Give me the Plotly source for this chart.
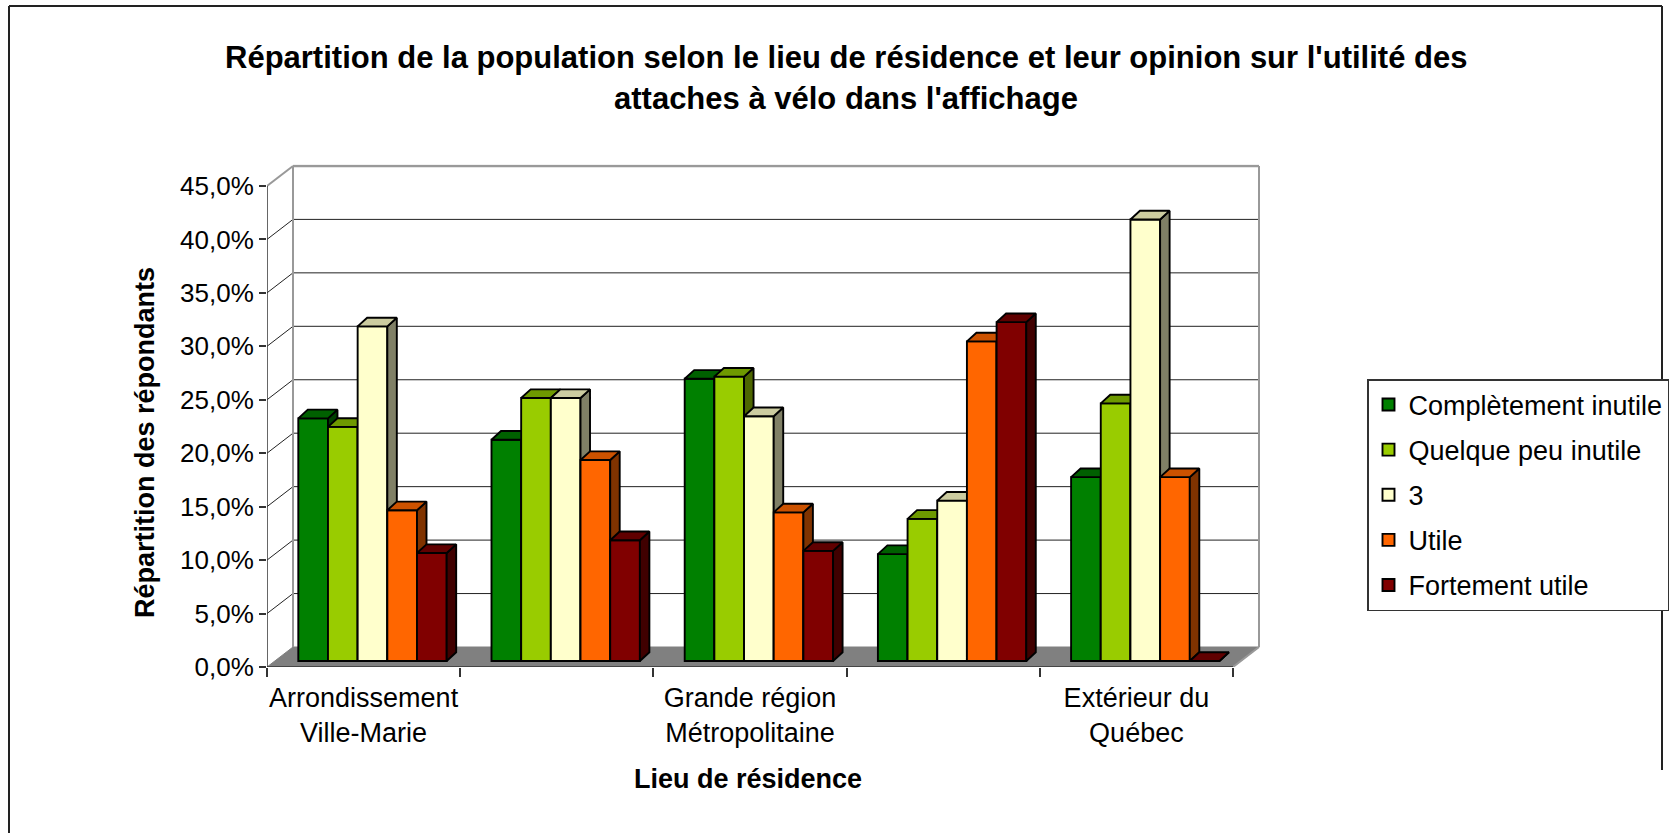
import plotly.graph_objects as go

# ---------------- data ----------------
categories = ["Arrondissement<br>Ville-Marie", "", "Grande région<br>Métropolitaine", "", "Extérieur du<br>Québec"]
series_names = ["Complètement inutile", "Quelque peu inutile", "3", "Utile", "Fortement utile"]
complètement_inutile = [22.7, 20.7, 26.4, 10.0, 17.2]
quelque_peu_inutile = [21.9, 24.6, 26.6, 13.3, 24.1]
neutre_3 = [31.3, 24.6, 22.9, 15.0, 41.3]
utile = [14.1, 18.8, 13.9, 29.9, 17.2]
fortement_utile = [10.1, 11.3, 10.3, 31.7, 0.0]
series_values = [complètement_inutile, quelque_peu_inutile, neutre_3, utile, fortement_utile]
y_ticks = [0, 5, 10, 15, 20, 25, 30, 35, 40, 45]

# ---------------- style ----------------
W, H = 1669, 833
FONT = "Liberation Sans, Arial, sans-serif"
front_col = ['#008000', '#99CC00', '#FFFFCC', '#FF6600', '#800000']
top_col = ['#006000', '#6E9900', '#CCCCA0', '#CC5200', '#600000']
side_col = ['#004000', '#4D6600', '#808066', '#803300', '#400000']

PX_CAT = 193.2      # pixels per category
PX_PCT = 10.69      # pixels per percent
LEFT_PX = 267
BOTTOM_PX = 667
DX = 26 / PX_CAT    # back-wall depth offset (category units)
DY = 20 / PX_PCT    # back-wall depth offset (percent units)
X0 = 0.162          # first bar left edge inside category
BW = 0.1536         # bar width
BASE = 0.56         # bar floor level (front of bars)
DDX = 9.5 / PX_CAT  # bar depth
DDY = 8.7 / PX_PCT

n = len(categories)
x_max = n + DX + 0.03
y_max = 47.0
dom_x = [LEFT_PX / W, (LEFT_PX + x_max * PX_CAT) / W]
dom_y = [(H - BOTTOM_PX) / H, (H - BOTTOM_PX + y_max * PX_PCT) / H]


def py(px):
    return 1 - px / H


fig = go.Figure()

for s, (name, vals) in enumerate(zip(series_names, series_values)):
    k = s + 2
    xa, ya = f"x{k}", f"y{k}"
    fig.add_trace(go.Bar(
        x=list(range(n)), y=vals, base=BASE, offset=X0 + s * BW, width=BW,
        marker=dict(color=front_col[s], line=dict(color='black', width=1.9)),
        name=name, legendgroup=name, xaxis=xa, yaxis=ya, hoverinfo='skip'))
    sx, sy, tx, ty = [], [], [], []
    for c, v in enumerate(vals):
        xl = c + X0 + s * BW
        xr = xl + BW
        t = BASE + v
        sx += [xr, xr + DDX, xr + DDX, xr, xr, None]
        sy += [BASE, BASE + DDY, t + DDY, t, BASE, None]
        tx += [xl, xl + DDX, xr + DDX, xr, xl, None]
        ty += [t, t + DDY, t + DDY, t, t, None]
    fig.add_trace(go.Scatter(x=sx, y=sy, mode='lines', fill='toself', fillcolor=side_col[s],
                             line=dict(color='black', width=1.9), showlegend=False,
                             legendgroup=name, hoverinfo='skip', xaxis=xa, yaxis=ya))
    fig.add_trace(go.Scatter(x=tx, y=ty, mode='lines', fill='toself', fillcolor=top_col[s],
                             line=dict(color='black', width=1.9), showlegend=False,
                             legendgroup=name, hoverinfo='skip', xaxis=xa, yaxis=ya))

shapes = []
# floor
shapes.append(dict(type='path', xref='x', yref='y', layer='below',
                   path=f"M0,0 L{n},0 L{n+DX},{DY} L{DX},{DY} Z",
                   fillcolor='#808080', line=dict(color='#808080', width=1)))
# back wall gridlines
for v in y_ticks[1:-1]:
    shapes.append(dict(type='line', xref='x', yref='y', layer='below',
                       x0=DX, x1=n + DX, y0=v + DY, y1=v + DY,
                       line=dict(color='#222222', width=1)))
    shapes.append(dict(type='line', xref='x', yref='y', layer='below',
                       x0=0, x1=DX, y0=v, y1=v + DY,
                       line=dict(color='#222222', width=1)))
# back wall border
shapes.append(dict(type='line', xref='x', yref='y', layer='below', x0=DX, x1=n + DX,
                   y0=y_ticks[-1] + DY, y1=y_ticks[-1] + DY, line=dict(color='#999999', width=2.5)))
shapes.append(dict(type='line', xref='x', yref='y', layer='below', x0=DX, x1=DX,
                   y0=DY, y1=y_ticks[-1] + DY, line=dict(color='#999999', width=2)))
shapes.append(dict(type='line', xref='x', yref='y', layer='below', x0=n + DX, x1=n + DX,
                   y0=DY, y1=y_ticks[-1] + DY, line=dict(color='#999999', width=2)))
shapes.append(dict(type='line', xref='x', yref='y', layer='below', x0=0, x1=DX,
                   y0=y_ticks[-1], y1=y_ticks[-1] + DY, line=dict(color='#999999', width=2)))
shapes.append(dict(type='line', xref='x', yref='y', layer='below', x0=n, x1=n + DX,
                   y0=0, y1=DY, line=dict(color='#999999', width=2)))
# front axes
shapes.append(dict(type='line', xref='x', yref='y', layer='below', x0=0, x1=0,
                   y0=0, y1=y_ticks[-1], line=dict(color='#333333', width=1.5)))
shapes.append(dict(type='line', xref='x', yref='y', layer='below', x0=0, x1=n,
                   y0=0, y1=0, line=dict(color='#333333', width=1.5)))
# outer chart border (top, left, right)
bc = dict(color='#222222', width=2)
shapes.append(dict(type='line', xref='paper', yref='paper', x0=9 / W, x1=1662 / W,
                   y0=py(6), y1=py(6), line=bc))
shapes.append(dict(type='line', xref='paper', yref='paper', x0=9 / W, x1=9 / W,
                   y0=py(6), y1=py(840), line=bc))
shapes.append(dict(type='line', xref='paper', yref='paper', x0=1662 / W, x1=1662 / W,
                   y0=py(6), y1=py(770), line=bc))

tick_text = [f"{v:.1f}".replace('.', ',') + "%" for v in y_ticks]

layout = dict(
    width=W, height=H, autosize=False,
    margin=dict(l=0, r=0, t=0, b=0, pad=0, autoexpand=False),
    paper_bgcolor='white', plot_bgcolor='rgba(0,0,0,0)',
    font=dict(family=FONT, size=27, color='black'),
    barmode='overlay', showlegend=True,
    shapes=shapes,
    xaxis=dict(domain=dom_x, range=[0, x_max], showgrid=False, zeroline=False, showline=False,
               automargin=False,
               tickvals=[c + 0.5 for c in range(n)], ticktext=categories, ticks='',
               tickfont=dict(size=27), ticklabelstandoff=12,
               minor=dict(tickvals=list(range(n + 1)), ticks='outside', ticklen=9,
                          tickcolor='#333333', tickwidth=1.5, showgrid=False)),
    yaxis=dict(domain=dom_y, range=[0, y_max], showgrid=False, zeroline=False, showline=False,
               automargin=False,
               tickvals=y_ticks, ticktext=tick_text, ticks='outside', ticklen=7,
               tickcolor='#333333', tickwidth=1.5, tickfont=dict(size=26)),
    legend=dict(x=1367 / W, y=py(379), xanchor='left', yanchor='top',
                bordercolor='#333333', borderwidth=1.5, bgcolor='white',
                font=dict(size=27), tracegroupgap=7, traceorder='grouped'),
    annotations=[
        dict(text="<b>Répartition de la population selon le lieu de résidence et leur opinion sur l'utilité des</b>",
             x=846 / W, y=py(57), xref='paper', yref='paper', showarrow=False,
             font=dict(size=31), xanchor='center', yanchor='middle'),
        dict(text="<b>attaches à vélo dans l'affichage</b>",
             x=846 / W, y=py(98), xref='paper', yref='paper', showarrow=False,
             font=dict(size=31), xanchor='center', yanchor='middle'),
        dict(text="<b>Répartition des répondants</b>", textangle=-90,
             x=145 / W, y=py(443), xref='paper', yref='paper', showarrow=False,
             font=dict(size=27), xanchor='center', yanchor='middle'),
        dict(text="<b>Lieu de résidence</b>",
             x=748 / W, y=py(779), xref='paper', yref='paper', showarrow=False,
             font=dict(size=27), xanchor='center', yanchor='middle'),
    ],
)
for k in range(2, len(series_values) + 2):
    layout[f"xaxis{k}"] = dict(overlaying='x', matches='x', visible=False, range=[0, x_max])
    layout[f"yaxis{k}"] = dict(overlaying='y', matches='y', visible=False, range=[0, y_max])

fig.update_layout(**layout)
fig.write_html("out.html", config={'displayModeBar': False},
               post_script="document.body.style.margin='0px';document.body.style.overflow='hidden';")
